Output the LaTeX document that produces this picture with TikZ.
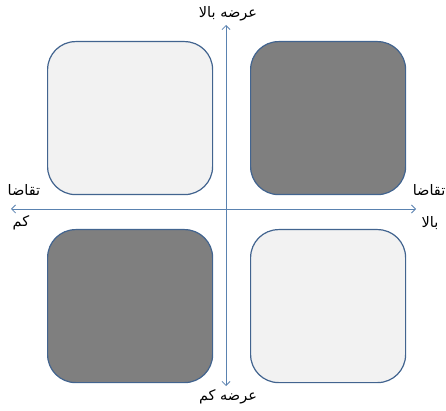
\documentclass[tikz,border=0pt]{standalone}
\usepackage{fontspec}
\TeXXeTstate=1
\newfontfamily\arabicfont[Script=Arabic]{DejaVu Sans}
\usetikzlibrary{arrows.meta}
\definecolor{boxline}{HTML}{42648F}
\definecolor{lightfill}{HTML}{F2F2F2}
\definecolor{darkfill}{HTML}{7F7F7F}
\definecolor{axiscol}{HTML}{5A82B0}
\tikzset{
  quad/.style={draw=boxline, line width=1.2pt, rounded corners=28pt, minimum width=#1, anchor=north west, inner sep=0pt},
  lightbox/.style={fill=lightfill},
  darkbox/.style={fill=darkfill},
  axis/.style={draw=axiscol, line width=0.8pt, {Straight Barb[length=4pt,width=8pt]}-{Straight Barb[length=4pt,width=8pt]}},
  lbl/.style={font=\arabicfont\fontsize{14.5}{17}\selectfont, inner sep=0pt}
}
\begin{document}
\begin{tikzpicture}[x=1pt,y=-1pt]
\useasboundingbox (0,0) rectangle (446,411);
\node[quad=165pt, lightbox, minimum height=153pt] (tl) at (47,41) {};
\node[quad=155pt, darkbox, minimum height=153pt] (tr) at (250,41) {};
\node[quad=165pt, darkbox, minimum height=153pt] (bl) at (47,229) {};
\node[quad=155pt, lightbox, minimum height=153pt] (br) at (250,229) {};
\coordinate (vt) at (226,25);
\coordinate (vb) at (226,386);
\coordinate (hl) at (11,209);
\coordinate (hr) at (416,209);
\draw[axis] (vb) -- (vt);
\draw[axis] (hl) -- (hr);
\node[lbl] (top) at (228,14) {\beginR عرضه بالا\endR};
\node[lbl] (bot) at (228,397) {\beginR عرضه کم\endR};
\node[lbl] (l1) at (24,190) {\beginR تقاضا\endR};
\node[lbl] (l2) at (21,223) {\beginR کم\endR};
\node[lbl, anchor=east] (r1) at (445.5,190) {\beginR تقاضا\endR};
\node[lbl] (r2) at (430,223) {\beginR بالا\endR};
\end{tikzpicture}
\end{document}
